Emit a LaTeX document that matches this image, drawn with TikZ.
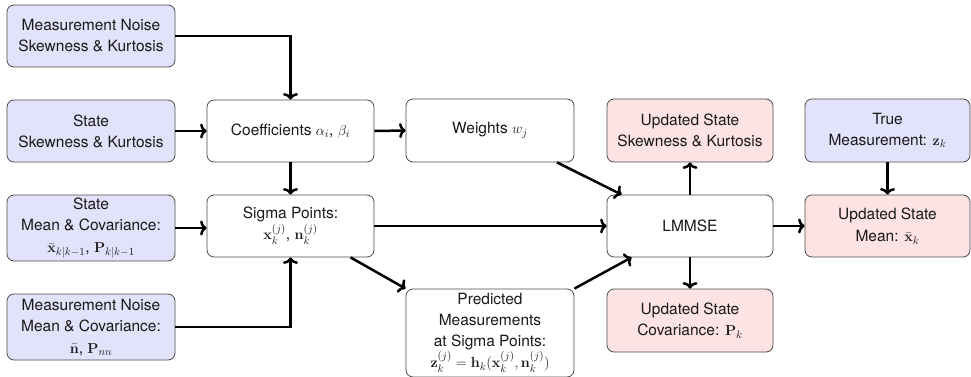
\documentclass[tikz,border=0pt]{standalone}
\usepackage{amsmath}
\usepackage[no-math]{fontspec}
\setmainfont{TeX Gyre Heros}
\usetikzlibrary{arrows.meta,calc}
\definecolor{inblue}{HTML}{E2E2FA}
\definecolor{outred}{HTML}{FDE3E3}
\begin{document}
\begin{tikzpicture}[x=1pt,y=-1pt,
  box/.style={draw=black!70, line width=0.8pt, rounded corners=7pt, align=center,
    inner sep=2pt, text=black!90, font=\fontsize{15.5}{21}\selectfont},
  inbox/.style={box, fill=inblue},
  outbox/.style={box, fill=outred},
  plainbox/.style={box, fill=white},
  arr/.style={line width=2.5pt, -{To[length=6.5pt,width=15pt]}}]
\useasboundingbox (0,0) rectangle (971,377);

\node[inbox, minimum width=168pt, minimum height=62pt] (mnskew) at (91,36)
  {Measurement Noise\\Skewness \& Kurtosis};
\node[inbox, minimum width=168pt, minimum height=62pt] (sskew) at (91,131)
  {State\\Skewness \& Kurtosis};
\node[inbox, minimum width=168pt, minimum height=66pt] (smean) at (91,228)
  {State\\Mean \& Covariance:\\[1pt]$\bar{\mathbf{x}}_{k|k-1}$, $\mathbf{P}_{k|k-1}$};
\node[inbox, minimum width=168pt, minimum height=66pt] (mnmean) at (91,327)
  {Measurement Noise\\Mean \& Covariance:\\[1pt]$\bar{\mathbf{n}}$, $\mathbf{P}_{nn}$};

\node[plainbox, minimum width=167pt, minimum height=62pt] (coef) at (290.5,131)
  {Coefficients $\alpha_i$, $\beta_i$};
\node[plainbox, minimum width=167pt, minimum height=62pt] (sigma) at (290.5,226)
  {Sigma Points:\\$\mathbf{x}_k^{(j)}$, $\mathbf{n}_k^{(j)}$};

\node[plainbox, minimum width=168pt, minimum height=63pt] (weights) at (490,130.5)
  {Weights $w_j$};
\node[plainbox, minimum width=168pt, minimum height=88pt] (pred) at (490,333)
  {Predicted\\Measurements\\at Sigma Points:\\$\mathbf{z}_k^{(j)}=\mathbf{h}_k(\mathbf{x}_k^{(j)},\mathbf{n}_k^{(j)})$};

\node[plainbox, minimum width=166pt, minimum height=62pt] (lmmse) at (690,226) {LMMSE};
\node[outbox, minimum width=166pt, minimum height=63pt] (uskew) at (690,130.5)
  {Updated State\\Skewness \& Kurtosis};
\node[outbox, minimum width=166pt, minimum height=63pt] (ucov) at (690,320.5)
  {Updated State\\Covariance: $\mathbf{P}_k$};

\node[inbox, minimum width=165pt, minimum height=63pt] (truem) at (887.5,130.5)
  {True\\Measurement: $\mathbf{z}_k$};
\node[outbox, minimum width=165pt, minimum height=62pt] (umean) at (887.5,226)
  {Updated State\\[1pt]Mean: $\bar{\mathbf{x}}_k$};

\draw[arr] (mnskew.east) -| (coef.north);
\draw[arr] (sskew.east) -- (coef.west);
\draw[arr] (coef.east) -- (weights.west);
\draw[arr] (coef.south) -- (sigma.north);
\draw[arr] (smean.east) -- (smean.east -| sigma.west);
\draw[arr] (mnmean.east) -| (sigma.south);
\draw[arr] (sigma.east) -- (lmmse.west);
\draw[arr] ([xshift=67pt]weights.south) -- ([xshift=15pt]lmmse.north west);
\draw[arr] ([xshift=60pt]sigma.south) -- (pred.north west);
\draw[arr] (pred.north east) -- ([xshift=25pt]lmmse.south west);
\draw[arr] (lmmse.north) -- (uskew.south);
\draw[arr] (lmmse.south) -- (ucov.north);
\draw[arr] (lmmse.east) -- (umean.west);
\draw[arr] (truem.south) -- (umean.north);
\end{tikzpicture}
\end{document}
